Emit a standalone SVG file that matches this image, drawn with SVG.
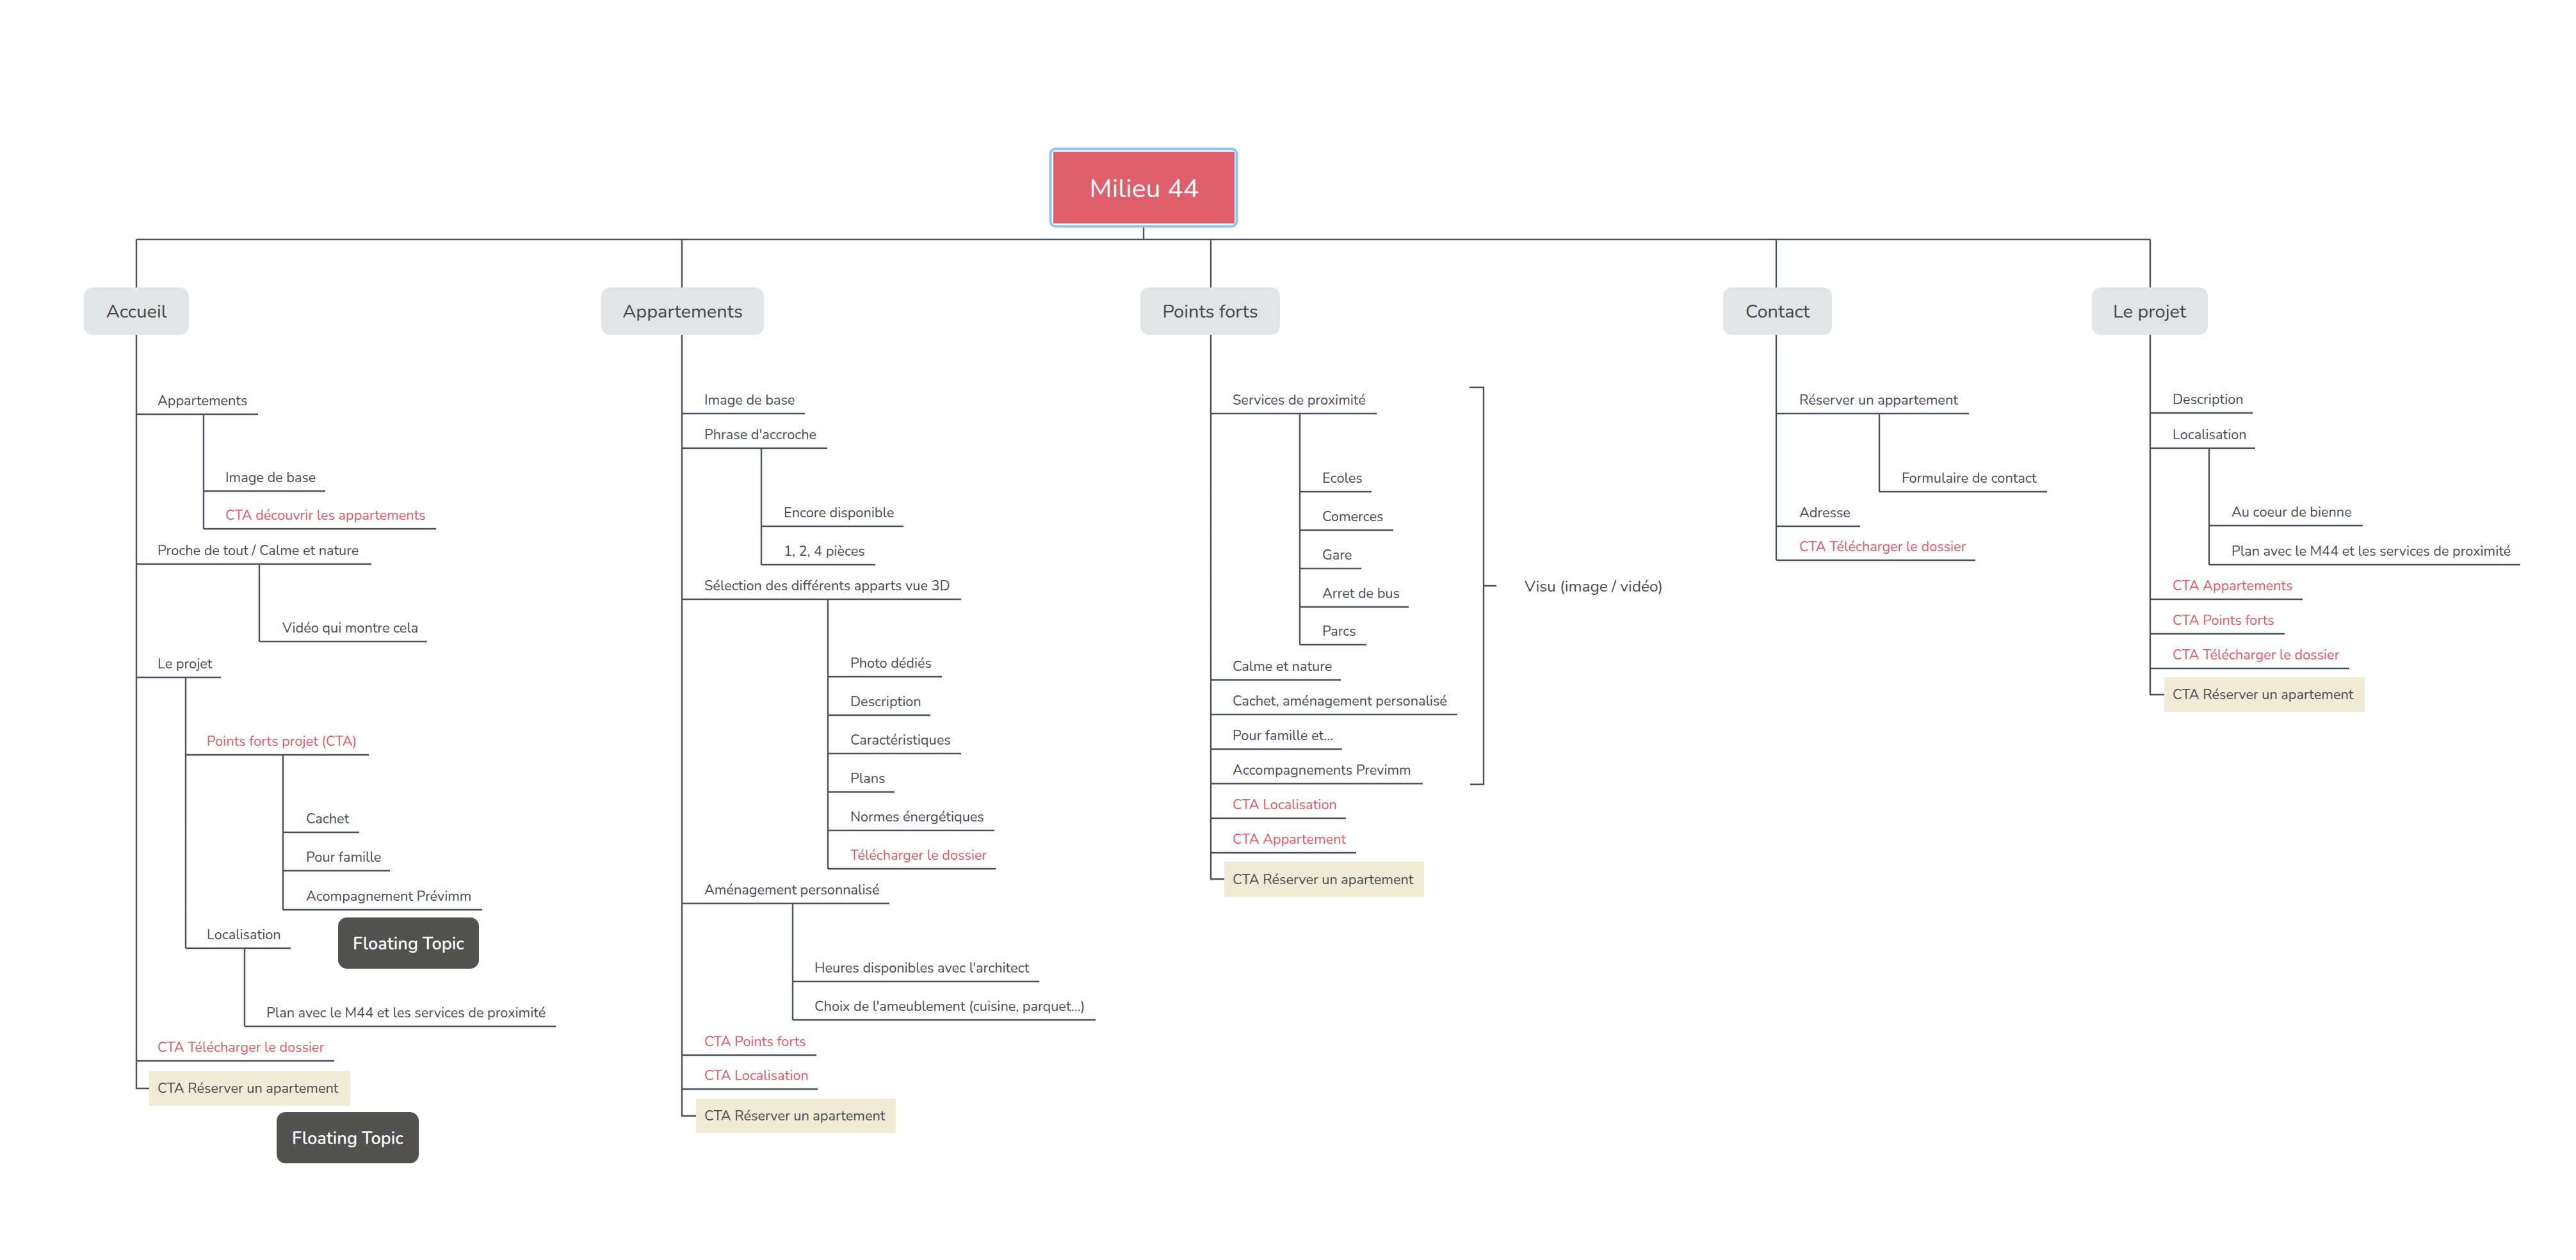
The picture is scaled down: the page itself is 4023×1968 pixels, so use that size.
<svg xmlns="http://www.w3.org/2000/svg" width="4023" height="1968" viewBox="0 0 4023 1968">
<style>
.ln{stroke:#4c5059;stroke-width:2.4;fill:none}
.t{font-family:Nunito,Lato,"Open Sans",sans-serif;font-size:21.7px;fill:#4a4c52}
.r{fill:#e05b68}
.big{font-size:24.5px}
.mt{font-family:Nunito,Lato,"Open Sans",sans-serif;font-size:29px;fill:#454545;text-anchor:middle}
.mb{fill:#e1e5e6}
.cta{fill:#efebd4}
.ft{fill:#51514f}
.ftt{font-family:Nunito,Lato,"Open Sans",sans-serif;font-size:27px;fill:#ffffff;text-anchor:middle;font-weight:600}
</style>
<rect width="4023" height="1968" fill="#ffffff"/>
<g id="connectors">
<path class="ln" d="M1786 355V374M213 374H3358M213 374V449M1065 374V449M1891 374V449M2774 374V449M3358 374V449"/>
<path class="ln" d="M213 523V1700H233M213 647H403M318 647V826M318 767H508M318 826H681M213 881H580M405 881V1002M405 1002H667M213 1058H345M290 1058V1481M290 1179H576M442 1179V1421M442 1300H561M442 1360H609M442 1421H753M290 1481H454M382 1481V1603M382 1603H868M213 1657H522"/>
<path class="ln" d="M1065 523V1743H1087M1065 646H1257M1065 700H1292M1189 700V882M1189 822H1411M1189 882H1367M1065 936H1501M1293 936V1357M1293 1057H1471M1293 1117H1453M1293 1177H1501M1293 1237H1397M1293 1297H1553M1293 1357H1555M1065 1411H1389M1238 1411V1593M1238 1533H1623M1238 1593H1711M1065 1648H1275M1065 1701H1277"/>
<path class="ln" d="M1891 523V1373H1912M1891 646H2150M2030 646V1007M2030 768H2142M2030 828H2176M2030 888H2126M2030 948H2200M2030 1007H2134M1891 1062H2094M1891 1116H2276M1891 1170H2096M1891 1224H2222M1891 1278H2102M1891 1332H2118"/>
<path class="ln" d="M2295 605H2317V1225H2296M2317 915H2337"/>
<path class="ln" d="M2774 523V875M2774 646H3075M2935 646V768M2935 768H3197M2774 822H2905M2774 875H3085"/>
<path class="ln" d="M3358 523V1085H3380M3358 645H3518M3358 700H3522M3450 700V882M3450 821H3690M3450 882H3936M3358 936H3596M3358 990H3568M3358 1044H3669"/>
</g>
<g id="root">
<rect x="1640.5" y="232.5" width="291" height="121" rx="8" fill="#ffffff" stroke="#8fc3f7" stroke-width="4"/>
<rect x="1645" y="237" width="283" height="112" fill="#de5f6b"/>
<text x="1787" y="308" font-family="Nunito,Lato,'Open Sans',sans-serif" font-size="41" fill="#ffffff" text-anchor="middle">Milieu 44</text>
</g>
<g id="accueil"><rect class="mb" x="131" y="449" width="164" height="74" rx="14"/><text class="mt" x="213" y="496">Accueil</text></g>
<g id="appartements"><rect class="mb" x="939" y="449" width="254" height="74" rx="14"/><text class="mt" x="1066" y="496">Appartements</text></g>
<g id="pointsforts"><rect class="mb" x="1781" y="449" width="218" height="74" rx="14"/><text class="mt" x="1890" y="496">Points forts</text></g>
<g id="contact"><rect class="mb" x="2691" y="449" width="170" height="74" rx="14"/><text class="mt" x="2776" y="496">Contact</text></g>
<g id="leprojet"><rect class="mb" x="3267" y="449" width="181" height="74" rx="14"/><text class="mt" x="3357" y="496">Le projet</text></g>

<g id="acc-1"><text class="t" x="246" y="633">Appartements</text></g>
<g id="acc-1-1"><text class="t" x="352" y="753">Image de base</text></g>
<g id="acc-1-2"><text class="t r" x="352" y="812">CTA découvrir les appartements</text></g>
<g id="acc-2"><text class="t" x="246" y="867">Proche de tout / Calme et nature</text></g>
<g id="acc-2-1"><text class="t" x="441" y="988">Vidéo qui montre cela</text></g>
<g id="acc-3"><text class="t" x="246" y="1044">Le projet</text></g>
<g id="acc-3-1"><text class="t r" x="323" y="1165">Points forts projet (CTA)</text></g>
<g id="acc-3-1-1"><text class="t" x="478" y="1286">Cachet</text></g>
<g id="acc-3-1-2"><text class="t" x="478" y="1346">Pour famille</text></g>
<g id="acc-3-1-3"><text class="t" x="478" y="1407">Acompagnement Prévimm</text></g>
<g id="acc-3-2"><text class="t" x="323" y="1467">Localisation</text></g>
<g id="acc-3-2-1"><text class="t" x="416" y="1589">Plan avec le M44 et les services de proximité</text></g>
<g id="acc-4"><text class="t r" x="246" y="1643">CTA Télécharger le dossier</text></g>
<g id="acc-5"><rect class="cta" x="233" y="1673" width="314" height="54"/><text class="t" x="246" y="1707">CTA Réserver un apartement</text></g>
<g id="float-1"><rect class="ft" x="528" y="1433" width="220" height="80" rx="14"/><text class="ftt" x="638" y="1483">Floating Topic</text></g>
<g id="float-2"><rect class="ft" x="432" y="1737" width="222" height="80" rx="14"/><text class="ftt" x="543" y="1787">Floating Topic</text></g>

<g id="app-1"><text class="t" x="1100" y="632">Image de base</text></g>
<g id="app-2"><text class="t" x="1100" y="686">Phrase d'accroche</text></g>
<g id="app-2-1"><text class="t" x="1224" y="808">Encore disponible</text></g>
<g id="app-2-2"><text class="t" x="1224" y="868">1, 2, 4 pièces</text></g>
<g id="app-3"><text class="t" x="1100" y="922">Sélection des différents apparts vue 3D</text></g>
<g id="app-3-1"><text class="t" x="1328" y="1043">Photo dédiés</text></g>
<g id="app-3-2"><text class="t" x="1328" y="1103">Description</text></g>
<g id="app-3-3"><text class="t" x="1328" y="1163">Caractéristiques</text></g>
<g id="app-3-4"><text class="t" x="1328" y="1223">Plans</text></g>
<g id="app-3-5"><text class="t" x="1328" y="1283">Normes énergétiques</text></g>
<g id="app-3-6"><text class="t r" x="1328" y="1343">Télécharger le dossier</text></g>
<g id="app-4"><text class="t" x="1100" y="1397">Aménagement personnalisé</text></g>
<g id="app-4-1"><text class="t" x="1272" y="1519">Heures disponibles avec l'architect</text></g>
<g id="app-4-2"><text class="t" x="1272" y="1579">Choix de l'ameublement (cuisine, parquet...)</text></g>
<g id="app-5"><text class="t r" x="1100" y="1634">CTA Points forts</text></g>
<g id="app-6"><text class="t r" x="1100" y="1687">CTA Localisation</text></g>
<g id="app-7"><rect class="cta" x="1087" y="1716" width="312" height="54"/><text class="t" x="1100" y="1750">CTA Réserver un apartement</text></g>

<g id="pf-1"><text class="t" x="1925" y="632">Services de proximité</text></g>
<g id="pf-1-1"><text class="t" x="2065" y="754">Ecoles</text></g>
<g id="pf-1-2"><text class="t" x="2065" y="814">Comerces</text></g>
<g id="pf-1-3"><text class="t" x="2065" y="874">Gare</text></g>
<g id="pf-1-4"><text class="t" x="2065" y="934">Arret de bus</text></g>
<g id="pf-1-5"><text class="t" x="2065" y="993">Parcs</text></g>
<g id="pf-2"><text class="t" x="1925" y="1048">Calme et nature</text></g>
<g id="pf-3"><text class="t" x="1925" y="1102">Cachet, aménagement personalisé</text></g>
<g id="pf-4"><text class="t" x="1925" y="1156">Pour famille et...</text></g>
<g id="pf-5"><text class="t" x="1925" y="1210">Accompagnements Previmm</text></g>
<g id="pf-6"><text class="t r" x="1925" y="1264">CTA Localisation</text></g>
<g id="pf-7"><text class="t r" x="1925" y="1318">CTA Appartement</text></g>
<g id="pf-8"><rect class="cta" x="1912" y="1346" width="312" height="55"/><text class="t" x="1925" y="1381">CTA Réserver un apartement</text></g>
<g id="pf-summary"><text class="t big" x="2381" y="924">Visu (image / vidéo)</text></g>

<g id="ct-1"><text class="t" x="2810" y="632">Réserver un appartement</text></g>
<g id="ct-1-1"><text class="t" x="2970" y="754">Formulaire de contact</text></g>
<g id="ct-2"><text class="t" x="2810" y="808">Adresse</text></g>
<g id="ct-3"><text class="t r" x="2810" y="861">CTA Télécharger le dossier</text></g>

<g id="lp-1"><text class="t" x="3393" y="631">Description</text></g>
<g id="lp-2"><text class="t" x="3393" y="686">Localisation</text></g>
<g id="lp-2-1"><text class="t" x="3485" y="807">Au coeur de bienne</text></g>
<g id="lp-2-2"><text class="t" x="3485" y="868">Plan avec le M44 et les services de proximité</text></g>
<g id="lp-3"><text class="t r" x="3393" y="922">CTA Appartements</text></g>
<g id="lp-4"><text class="t r" x="3393" y="976">CTA Points forts</text></g>
<g id="lp-5"><text class="t r" x="3393" y="1030">CTA Télécharger le dossier</text></g>
<g id="lp-6"><rect class="cta" x="3380" y="1058" width="313" height="54"/><text class="t" x="3393" y="1092">CTA Réserver un apartement</text></g>
</svg>
